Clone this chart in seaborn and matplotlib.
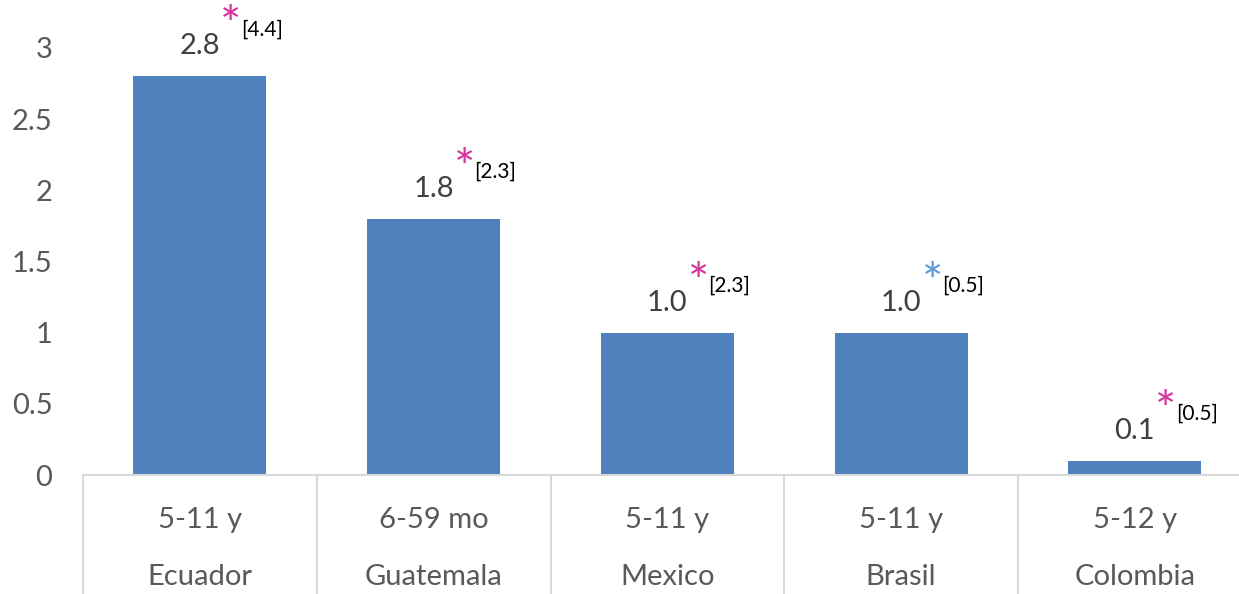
import matplotlib
matplotlib.use("Agg")
import matplotlib.pyplot as plt
import seaborn as sns
import pandas as pd
from matplotlib.lines import Line2D

countries = ["Ecuador", "Guatemala", "Mexico", "Brasil", "Colombia"]
age_groups = ["5-11 y", "6-59 mo", "5-11 y", "5-11 y", "5-12 y"]
values = [2.8, 1.8, 1.0, 1.0, 0.1]
bracket_values = ["[4.4]", "[2.3]", "[2.3]", "[0.5]", "[0.5]"]
star_colors = ["#D5359B", "#D5359B", "#D5359B", "#5B9BD5", "#D5359B"]
yticks = [0, 0.5, 1, 1.5, 2, 2.5, 3]
ytick_labels = ["0", "0.5", "1", "1.5", "2", "2.5", "3"]

sns.set_theme(style="white")
plt.rcParams["font.family"] = ["Lato", "DejaVu Sans"]

W, H = 1239, 594
fig = plt.figure(figsize=(W / 100, H / 100), dpi=100)
cat_w = 233.75
left = 83
bottom = 475
top = 48
ax = fig.add_axes([left / W, (H - bottom) / H, 5 * cat_w / W, (bottom - top) / H])

df = pd.DataFrame({"pos": list(range(len(values))), "value": values})
sns.barplot(data=df, x="pos", y="value", color="#4F81BD", saturation=1,
            width=0.57, ax=ax, native_scale=True, edgecolor="#4F81BD", linewidth=0)

FS = 21
ax.set_xlim(-0.5, len(values) - 0.5)
ax.set_ylim(0, 3)
ax.set_yticks(yticks)
ax.set_yticklabels(ytick_labels, fontsize=FS, color="#595959")
ax.tick_params(axis="y", length=0, pad=22)
ax.set_xticks(range(len(values)))
ax.set_xticklabels(age_groups, fontsize=FS, color="#595959")
ax.tick_params(axis="x", length=0, pad=23)
ax.set_xlabel("")
ax.set_ylabel("")
for s in ["left", "right", "top"]:
    ax.spines[s].set_visible(False)
ax.spines["bottom"].set_color("#D9D9D9")
ax.spines["bottom"].set_linewidth(1.5)
ax.grid(False)

# second row labels
for i, c in enumerate(countries):
    ax.annotate(c, xy=(i, 0), xycoords="data", xytext=(0, -(577 - bottom)),
                textcoords="offset pixels", ha="center", va="center",
                fontsize=FS, color="#595959", annotation_clip=False)

# separator lines
for i in range(len(values)):
    x = (left + i * cat_w) / W
    fig.add_artist(Line2D([x, x], [0, (H - bottom) / H], color="#D9D9D9",
                          lw=1.5, transform=fig.transFigure))

# value labels, asterisks and brackets
for i, v in enumerate(values):
    ax.annotate(f"{v:.1f}", xy=(i, v), xytext=(0, 30), textcoords="offset pixels",
                ha="center", va="center", fontsize=FS, color="#404040",
                annotation_clip=False)
    ax.annotate("*", xy=(i, v), xytext=(31, 48), textcoords="offset pixels",
                ha="center", va="center", fontsize=36, color=star_colors[i],
                annotation_clip=False)
    ax.annotate(bracket_values[i], xy=(i, v), xytext=(41, 47), textcoords="offset pixels",
                ha="left", va="center", fontsize=15, color="#000000",
                annotation_clip=False)

fig.savefig("out.png", dpi=100)
